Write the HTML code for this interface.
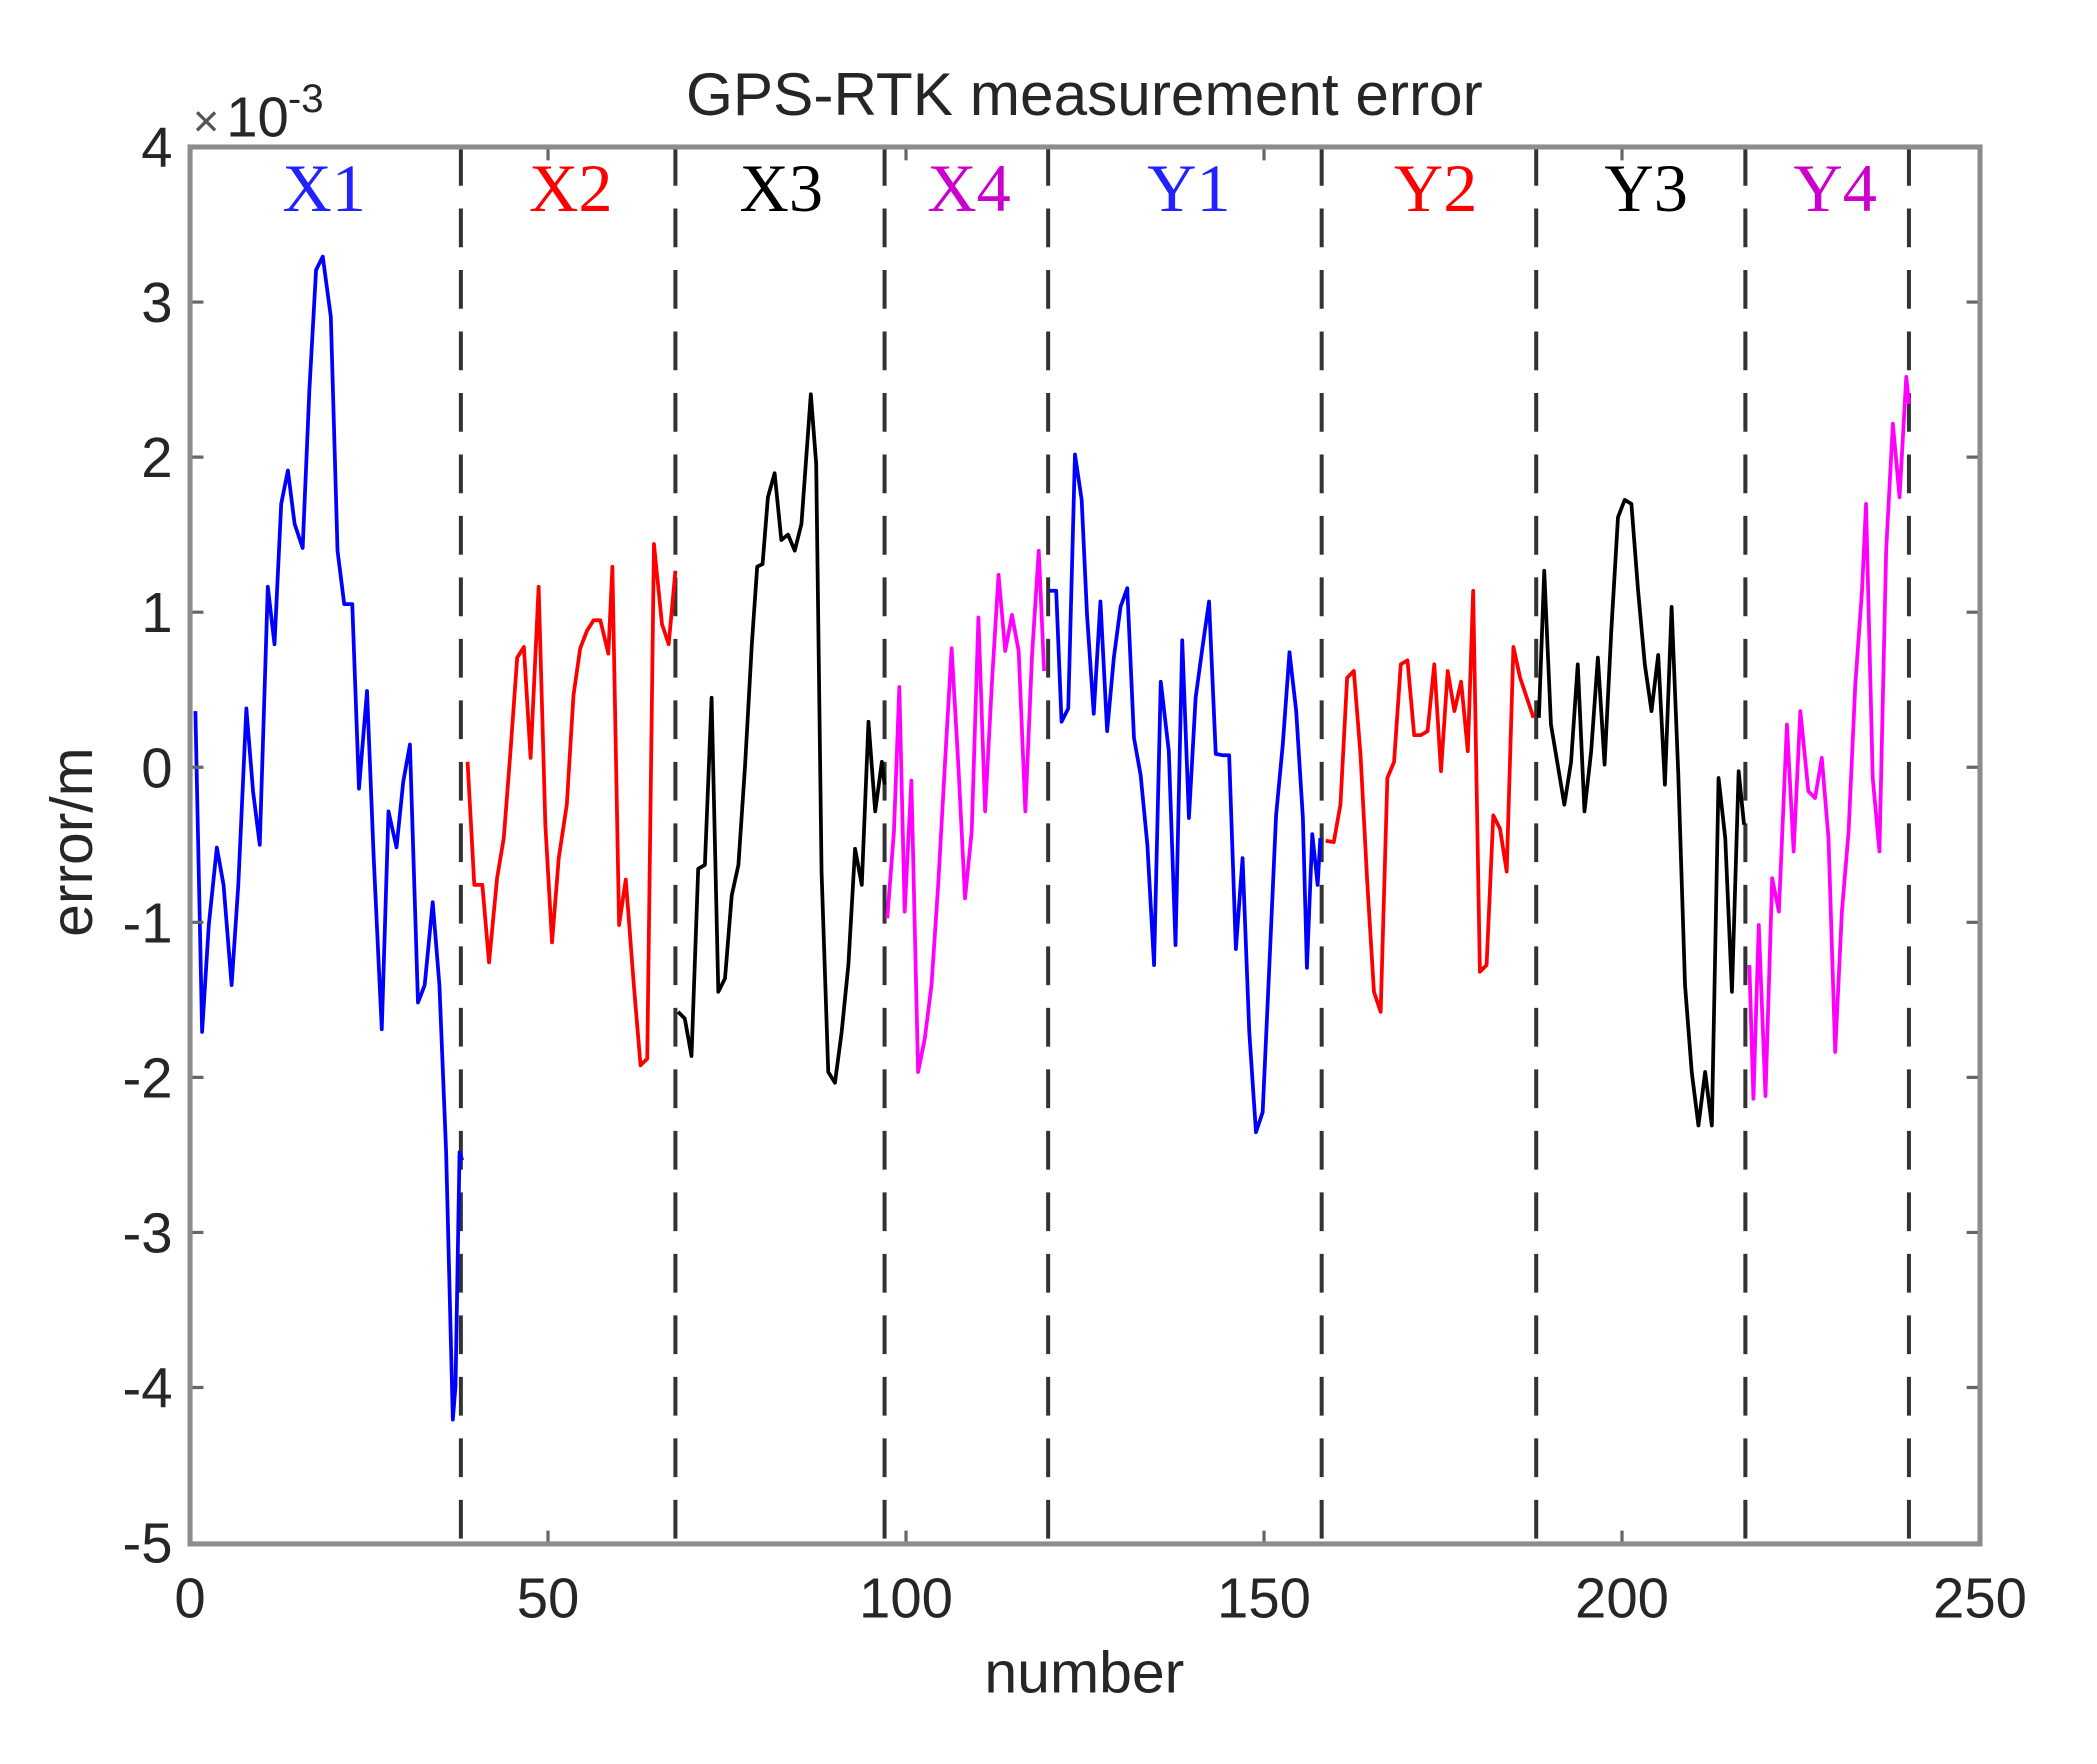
<!DOCTYPE html>
<html><head><meta charset="utf-8"><style>html,body{margin:0;padding:0;background:#fff;}svg{display:block}</style></head>
<body>
<svg width="2097" height="1764" viewBox="0 0 2097 1764" xmlns="http://www.w3.org/2000/svg">
<rect width="2097" height="1764" fill="#fff"/>
<g transform="translate(-1.7,2.6) scale(1.3408,1.3368)">
<g font-family="Liberation Sans, sans-serif" fill="#262626">
<text x="810" y="84" font-size="45" text-anchor="middle">GPS-RTK measurement error</text>
<text x="145" y="100" font-size="34" fill="#555">×</text>
<text x="170" y="100" font-size="42">10</text>
<text x="216" y="82" font-size="30">-3</text>
<g font-size="42" text-anchor="end">
<text x="130" y="123">4</text><text x="130" y="239">3</text><text x="130" y="355">2</text><text x="130" y="471">1</text><text x="130" y="587">0</text><text x="130" y="703">-1</text><text x="130" y="819">-2</text><text x="130" y="935">-3</text><text x="130" y="1051">-4</text><text x="130" y="1167">-5</text>
</g>
<g font-size="42" text-anchor="middle">
<text x="143" y="1208">0</text><text x="410" y="1208">50</text><text x="677" y="1208">100</text><text x="944" y="1208">150</text><text x="1211" y="1208">200</text><text x="1478" y="1208">250</text>
</g>
<text x="810" y="1264" font-size="44" text-anchor="middle">number</text>
<text transform="translate(70,628) rotate(-90)" font-size="44" text-anchor="middle">error/m</text>
</g>
<g font-family="Liberation Serif, serif" font-size="51" text-anchor="middle">
<text x="243" y="156" fill="#2222ff">X1</text>
<text x="427" y="156" fill="#ff0000">X2</text>
<text x="584" y="156" fill="#000">X3</text>
<text x="724" y="156" fill="#cc00cc">X4</text>
<text x="888" y="156" fill="#2222ff">Y1</text>
<text x="1072" y="156" fill="#ff0000">Y2</text>
<text x="1229" y="156" fill="#000">Y3</text>
<text x="1370" y="156" fill="#cc00cc">Y4</text>
</g>
<g stroke="#333" stroke-width="3" stroke-dasharray="29,17" fill="none">
<line x1="345" y1="108" x2="345" y2="1153"/><line x1="505" y1="108" x2="505" y2="1153"/><line x1="661" y1="108" x2="661" y2="1153"/><line x1="783" y1="108" x2="783" y2="1153"/><line x1="987" y1="108" x2="987" y2="1153"/><line x1="1147" y1="108" x2="1147" y2="1153"/><line x1="1303" y1="108" x2="1303" y2="1153"/><line x1="1425" y1="108" x2="1425" y2="1153"/>
</g>
<g fill="none" stroke-width="2.8" stroke-linejoin="round">
<polyline stroke="#0000ff" points="147,530 152,770 157,690 163,632 168,660 174,735 179,660 185,528 190,590 195,630 201,437 206,480 211,375 216,350 221,390 227,408 232,290 237,200 242,190 248,235 253,410 258,450 264,450 269,588 275,515 280,640 286,768 291,605 297,632 302,583 307,555 313,748 318,735 324,673 329,735 334,860 339,1060 341,1035 344,860 346,866"/>
<polyline stroke="#ff0000" points="350,568 355,660 361,660 366,718 372,655 377,625 382,560 387,490 392,482 397,565 403,437 408,615 413,703 418,640 424,600 429,518 434,483 439,470 444,462 449,462 455,487 458,422 463,690 468,656 474,735 479,795 484,790 489,405 495,465 500,480 505,425"/>
<polyline stroke="#000" points="507,755 512,760 517,788 522,648 527,645 532,520 537,740 542,730 547,668 552,645 557,570 562,480 566,422 570,420 574,370 579,352 584,402 589,398 594,410 599,390 606,293 610,345 614,650 619,800 624,808 629,770 634,720 639,633 644,660 649,538 654,605 659,568 661,585"/>
<polyline stroke="#ff00ff" points="663,685 668,620 672,512 676,680 681,582 686,800 691,775 696,735 701,660 706,570 711,483 716,570 721,670 726,620 731,460 736,605 741,510 746,428 751,485 756,458 761,485 766,605 771,488 776,410 780,500"/>
<polyline stroke="#0000ff" points="784,440 789,440 793,538 798,528 803,338 808,372 812,458 817,532 822,448 827,545 832,490 837,452 842,438 847,550 852,578 857,630 862,720 867,508 873,560 878,705 883,477 888,610 893,520 898,483 903,448 908,562 913,563 918,563 923,708 928,640 933,770 938,845 943,830 948,720 953,608 958,555 963,486 968,530 973,610 976,722 980,622 984,660 986,625"/>
<polyline stroke="#ff0000" points="990,627 996,628 1001,600 1006,505 1011,500 1016,563 1021,658 1026,740 1031,755 1036,580 1041,568 1046,495 1051,492 1056,548 1061,548 1066,545 1071,495 1076,575 1081,500 1086,530 1091,508 1096,560 1100,440 1105,725 1110,720 1115,608 1120,618 1125,650 1130,482 1135,505 1140,520 1145,535"/>
<polyline stroke="#000" points="1149,535 1153,425 1158,540 1163,570 1168,600 1173,568 1178,495 1183,605 1188,560 1193,490 1198,570 1203,470 1208,385 1213,372 1218,375 1223,440 1228,495 1233,530 1238,488 1243,585 1248,452 1253,578 1258,735 1263,800 1268,840 1273,800 1278,840 1283,580 1288,625 1293,740 1298,575 1302,615"/>
<polyline stroke="#ff00ff" points="1306,720 1309,820 1313,690 1318,818 1323,655 1328,680 1334,540 1339,635 1344,530 1350,590 1355,595 1360,565 1365,625 1370,785 1375,680 1380,620 1385,510 1390,440 1393,375 1398,580 1403,635 1408,410 1413,315 1418,370 1423,280 1425,300"/>
</g>
<g stroke="#666" stroke-width="2.4">
<path d="M143,224h10M143,340h10M143,456h10M143,572h10M143,688h10M143,804h10M143,920h10M143,1036h10M1478,224h-10M1478,340h-10M1478,456h-10M1478,572h-10M1478,688h-10M1478,804h-10M1478,920h-10M1478,1036h-10M410,1153v-10M677,1153v-10M944,1153v-10M1211,1153v-10M410,108v10M677,108v10M944,108v10M1211,108v10"/>
</g>
<rect x="143" y="108" width="1335" height="1045" fill="none" stroke="#8c8c8c" stroke-width="3.8"/>
</g>
</svg>
</body></html>
